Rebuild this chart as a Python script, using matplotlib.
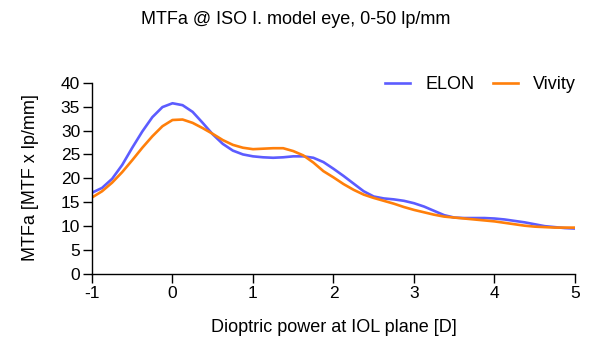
import matplotlib
matplotlib.use("Agg")
import matplotlib.pyplot as plt
import numpy as np

plt.rcParams['font.family'] = ['Liberation Sans', 'DejaVu Sans']

# dioptric power, 0.125 D steps
diopters = np.arange(-1.0, 5.0001, 0.125)

elon = [17.0, 18.0, 19.9, 22.8, 26.4, 29.8, 32.8, 34.9,
        35.7, 35.3, 33.9, 31.6, 29.2, 27.2, 25.8, 25.0,
        24.6, 24.4, 24.3, 24.4, 24.6, 24.6, 24.3, 23.4,
        22.0, 20.5, 18.9, 17.3, 16.2, 15.8, 15.6, 15.3,
        14.8, 14.1, 13.2, 12.3, 11.8, 11.7, 11.7, 11.7,
        11.6, 11.4, 11.1, 10.8, 10.4, 10.0, 9.8, 9.6,
        9.5]

vivity = [16.0, 17.3, 19.1, 21.3, 23.8, 26.4, 28.8, 30.9,
          32.2, 32.3, 31.6, 30.5, 29.3, 28.0, 27.0, 26.4,
          26.1, 26.2, 26.3, 26.3, 25.7, 24.8, 23.3, 21.5,
          20.2, 18.8, 17.6, 16.6, 15.9, 15.3, 14.7, 14.0,
          13.4, 12.9, 12.4, 12.0, 11.8, 11.6, 11.4, 11.2,
          11.0, 10.7, 10.4, 10.1, 9.9, 9.8, 9.7, 9.7,
          9.7]

x_ticks = [-1, 0, 1, 2, 3, 4, 5]
y_ticks = list(range(0, 41, 5))

fig = plt.figure(figsize=(5.89, 3.51), dpi=100)
ax = fig.add_axes([0.1562, 0.2194, 0.82, 0.545])

ax.plot(diopters, elon, color="#5c5cff", lw=1.9, label="ELON", solid_joinstyle="round")
ax.plot(diopters, vivity, color="#ff7f0a", lw=1.9, label="Vivity", solid_joinstyle="round")

ax.set_xlim(-1, 5)
ax.set_ylim(0, 40)
ax.set_xticks(x_ticks)
ax.set_xticklabels([str(t) for t in x_ticks])
ax.set_yticks(y_ticks)
ax.tick_params(direction="out", length=6.5, width=1, labelsize=12.5, pad=2)
for s in ["top", "right"]:
    ax.spines[s].set_visible(False)
for s in ["left", "bottom"]:
    ax.spines[s].set_linewidth(1)

fig.text(333.5 / 589, 1 - 328 / 351, "Dioptric power at IOL plane [D]", ha="center", va="center", fontsize=13)
fig.text(31 / 589, 1 - 178 / 351, "MTFa [MTF x lp/mm]", rotation=90, ha="center", va="center", fontsize=13)
fig.text(296 / 589, 1 - 20 / 351, "MTFa @ ISO I. model eye, 0-50 lp/mm", ha="center", va="center", fontsize=13)

ax.legend(loc="center right", bbox_to_anchor=(1.006, 0.758), bbox_transform=fig.transFigure,
          ncol=2, frameon=False, fontsize=13, handlelength=1.4, columnspacing=1.0, handletextpad=0.85)

fig.savefig("out.png", dpi=100)
